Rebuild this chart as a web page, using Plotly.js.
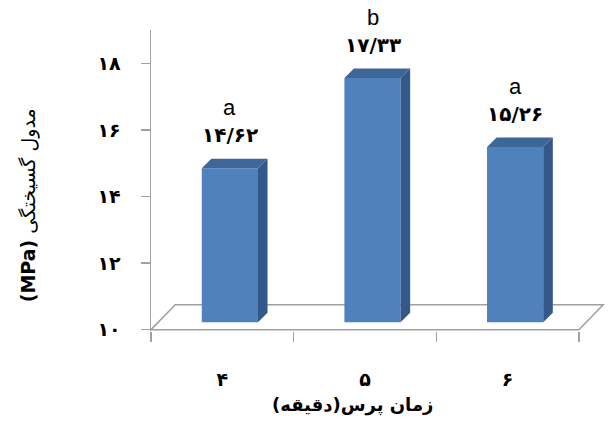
<!DOCTYPE html>
<html>
<head>
<meta charset="utf-8">
<script src="https://cdn.plot.ly/plotly-3.0.1.min.js"></script>
<style>html,body{margin:0;padding:0;background:#fff;}#chart{width:612px;height:427px;}</style>
</head>
<body>
<div id="chart"></div>
<script>
// ---- data ----
const categories = ['۴', '۵', '۶'];
const values = [14.62, 17.33, 15.26];
const valueLabels = ['۱۴/۶۲', '۱۷/۳۳', '۱۵/۲۶'];
const letters = ['a', 'b', 'a'];
const yTickVals = [10, 12, 14, 16, 18];
const yTickText = ['۱۰', '۱۲', '۱۴', '۱۶', '۱۸'];
const xTitle = '\u200Fزمان پرس(دقیقه)\u200F';
const yTitle = '<b>(MPa)</b> مدول گسیختگی';

// ---- 3D style geometry (axis units) ----
const hw = 0.197, dxf = 0.053, dyf = 0.225, dxs = 0.067, dys = 0.285;
const floorDx = 0.17, floorDy = 0.75;
const base = 10;
const xs = categories.map((c, i) => i);

const sideX = [], sideY = [], topX = [], topY = [];
xs.forEach((x, i) => {
  const v = values[i];
  const r = x + hw + dxf, l = x - hw + dxf;
  sideX.push(r, r + dxs, r + dxs, r, r, null);
  sideY.push(base + dyf, base + dyf + dys, v + dyf + dys, v + dyf, base + dyf, null);
  topX.push(l, l + dxs, r + dxs, r, l, null);
  topY.push(v + dyf, v + dyf + dys, v + dyf + dys, v + dyf, v + dyf, null);
});

const traces = [
  {type: 'bar', x: xs, y: values.map(v => v - base), base: base + dyf,
   width: 2 * hw, offset: -hw + dxf, marker: {color: '#4F81BD', line: {width: 0}},
   hoverinfo: 'skip', showlegend: false},
  {type: 'scatter', mode: 'lines', x: sideX, y: sideY, fill: 'toself',
   fillcolor: '#34588A', line: {width: 0, color: '#34588A'}, hoverinfo: 'skip', showlegend: false},
  {type: 'scatter', mode: 'lines', x: topX, y: topY, fill: 'toself', xaxis: 'x2',
   fillcolor: '#3E6699', line: {width: 0, color: '#3E6699'}, hoverinfo: 'skip', showlegend: false}
];

const annotations = [];
xs.forEach((x, i) => {
  annotations.push({x: x + dxf, y: values[i] + dyf, xref: 'x', yref: 'y', text: valueLabels[i],
    showarrow: false, yshift: 33, font: {family: 'DejaVu Sans', size: 20, color: '#000', weight: 'bold'}});
  annotations.push({x: x + dxf, y: values[i] + dyf, xref: 'x', yref: 'y', text: letters[i],
    showarrow: false, yshift: 61, font: {family: 'Liberation Sans', size: 22, color: '#000'}});
});
annotations.push({x: -0.297, y: 0.419, xref: 'paper', yref: 'paper', text: yTitle, textangle: -90,
  showarrow: false, font: {family: 'DejaVu Sans', size: 19, color: '#000'}});
annotations.push({x: 0.442, y: -0.29, xref: 'paper', yref: 'paper', text: xTitle,
  showarrow: false, font: {family: 'DejaVu Sans', size: 18, color: '#000', weight: 'bold'}});

const xRange = [-0.5, 2.69];
const layout = {
  width: 612, height: 427,
  margin: {l: 151, r: 6, t: 30, b: 96},
  paper_bgcolor: '#fff', plot_bgcolor: '#fff',
  showlegend: false,
  xaxis: {range: xRange, showgrid: false, zeroline: false, showline: false,
    tickmode: 'array', tickvals: [-0.5, 0.5, 1.5, 2.5], ticktext: ['', '', '', ''],
    ticks: 'outside', ticklen: 10, tickwidth: 1.5, tickcolor: '#A0A0A0', fixedrange: true},
  xaxis2: {range: xRange, overlaying: 'x', anchor: 'y', side: 'bottom', showgrid: false, zeroline: false,
    showline: false, tickmode: 'array', tickvals: xs, ticktext: categories, ticks: '',
    ticklabelstandoff: 35, tickfont: {family: 'DejaVu Sans', size: 19, color: '#000', weight: 'bold'}},
  yaxis: {range: [9.96, 19], showgrid: false, zeroline: false, showline: true,
    linecolor: '#A0A0A0', linewidth: 1.5, ticks: 'outside', ticklen: 9, tickwidth: 1.5,
    tickcolor: '#A0A0A0', tickmode: 'array', tickvals: yTickVals, ticktext: yTickText,
    ticklabelstandoff: 16, tickfont: {family: 'DejaVu Sans', size: 19, color: '#000', weight: 'bold'}},
  shapes: [{type: 'path', xref: 'x', yref: 'y', layer: 'below',
    path: `M ${xRange[0]} ${base} L ${xRange[0] + floorDx} ${base + floorDy} L ${2.5 + floorDx} ${base + floorDy} L 2.5 ${base} Z`,
    line: {color: '#A0A0A0', width: 1.5}, fillcolor: 'rgba(0,0,0,0)'}],
  annotations: annotations
};

Plotly.newPlot('chart', traces, layout, {displayModeBar: false, staticPlot: true});
</script>
</body>
</html>
